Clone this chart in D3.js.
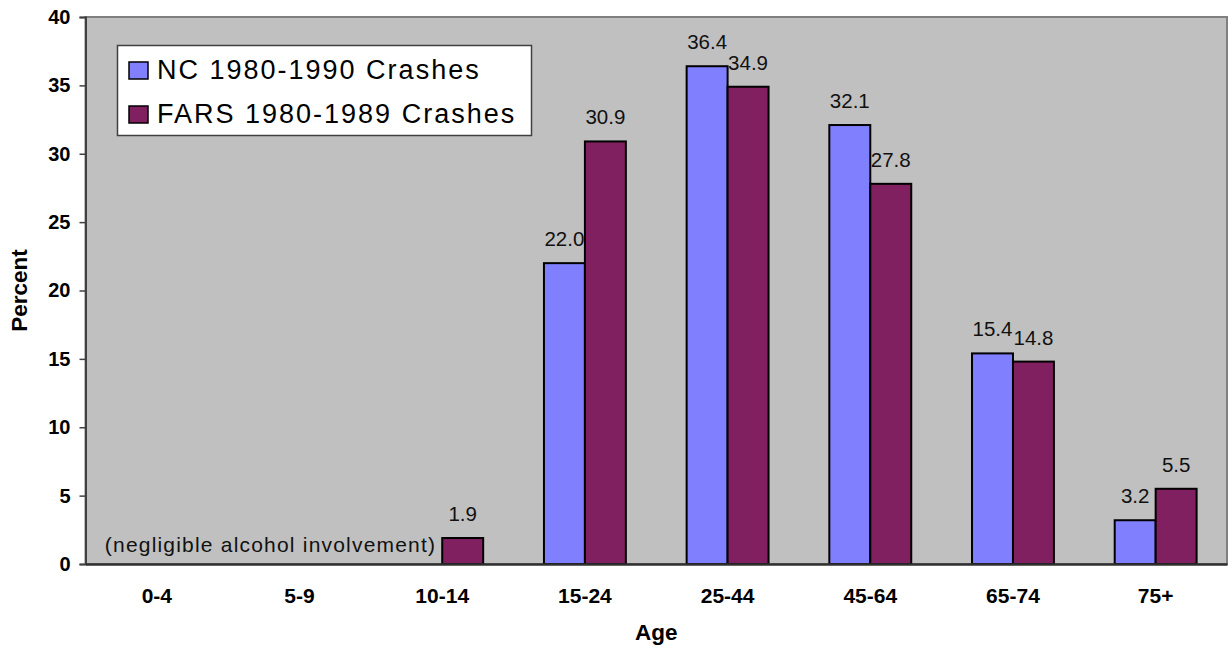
<!DOCTYPE html>
<html><head><meta charset="utf-8">
<script src="https://cdn.jsdelivr.net/npm/d3@7"></script>
<style>body{margin:0;background:#fff}svg{display:block;font-family:Arial,"Liberation Sans",sans-serif}</style>
</head><body><svg id="c" width="1228" height="647"></svg>
<script>
const categories = ["0-4","5-9","10-14","15-24","25-44","45-64","65-74","75+"];
const seriesNames = ["NC 1980-1990 Crashes","FARS 1980-1989 Crashes"];
const ncValues   = [null, null, null, 22.0, 36.4, 32.1, 15.4, 3.2];
const farsValues = [null, null, 1.9, 30.9, 34.9, 27.8, 14.8, 5.5];
const colors = ["#8080FF","#802060"];
const yTicks = [0,5,10,15,20,25,30,35,40];

const svg = d3.select("#c");
const FF = "Arial, 'Liberation Sans', sans-serif";
const L = 85.5, R = 1227, T = 17, B = 564;
const x0 = d3.scaleBand().domain(categories).range([L, R]).paddingInner(0.426).paddingOuter(0.213);
const x1 = d3.scaleBand().domain([0,1]).range([0, x0.bandwidth()]);
const y = d3.scaleLinear().domain([0,40]).range([B, T]);

// plot background
svg.append("rect").attr("x", L).attr("y", T).attr("width", R - L).attr("height", B - T)
  .attr("fill", "#C0C0C0").attr("stroke", "#808080").attr("stroke-width", 2);

// bars
const series = [ncValues, farsValues];
series.forEach((vals, si) => {
  const data = categories.map((c, i) => ({c, v: vals[i]})).filter(d => d.v != null);
  const g = svg.append("g");
  g.selectAll("rect").data(data).join("rect")
    .attr("x", d => x0(d.c) + x1(si))
    .attr("y", d => y(d.v))
    .attr("width", x1.bandwidth())
    .attr("height", d => y(0) - y(d.v))
    .attr("fill", colors[si]).attr("stroke", "#000").attr("stroke-width", 2);
  g.selectAll("text").data(data).join("text")
    .attr("x", d => x0(d.c) + x1(si) + x1.bandwidth() / 2)
    .attr("y", d => y(d.v) - 17)
    .attr("text-anchor", "middle").attr("font-size", 20.5).attr("fill", "#111")
    .text(d => d.v.toFixed(1));
});

// y axis
const yAxis = svg.append("g").attr("transform", `translate(${L},0)`)
  .call(d3.axisLeft(y).tickValues(yTicks).tickSize(6).tickPadding(9).tickFormat(d3.format("d")));
yAxis.select(".domain").attr("stroke", "#404040").attr("stroke-width", 2);
yAxis.selectAll(".tick line").attr("stroke", "#404040").attr("stroke-width", 1.5);
yAxis.selectAll("text").attr("font-size", 20).attr("font-weight", "bold").attr("fill", "#000")
  .attr("font-family", FF);

// x axis
const xAxis = svg.append("g").attr("transform", `translate(0,${B})`)
  .call(d3.axisBottom(x0).tickSize(0).tickPadding(24).tickSizeOuter(0));
xAxis.select(".domain").attr("stroke", "#303030").attr("stroke-width", 2.5);
xAxis.selectAll("text").attr("font-size", 21).attr("font-weight", "bold").attr("fill", "#000")
  .attr("font-family", FF);

// annotation
svg.append("text").attr("x", x0("10-14") + x1(1) - 6).attr("y", y(0) - 12)
  .attr("text-anchor", "end").attr("font-size", 21).attr("letter-spacing", 1.2).attr("fill", "#111")
  .text("(negligible alcohol involvement)");

// axis titles
svg.append("text").attr("x", (L + R) / 2).attr("y", 640).attr("text-anchor", "middle")
  .attr("font-size", 22.5).attr("font-weight", "bold").text("Age");
svg.append("text").attr("transform", `translate(27,${(T + B) / 2}) rotate(-90)`).attr("text-anchor", "middle")
  .attr("font-size", 22.5).attr("font-weight", "bold").text("Percent");

// legend
const lg = svg.append("g");
lg.append("rect").attr("x", 117.5).attr("y", 45.5).attr("width", 414).attr("height", 90)
  .attr("fill", "#fff").attr("stroke", "#404040").attr("stroke-width", 1.5);
seriesNames.forEach((n, i) => {
  lg.append("rect").attr("x", 129).attr("y", 62 + i * 44).attr("width", 19).attr("height", 17)
    .attr("fill", colors[i]).attr("stroke", "#000").attr("stroke-width", 1.5);
  lg.append("text").attr("x", 157).attr("y", 79 + i * 44).attr("font-size", 27)
    .attr("letter-spacing", 2).attr("fill", "#000").text(n);
});
</script></body></html>
